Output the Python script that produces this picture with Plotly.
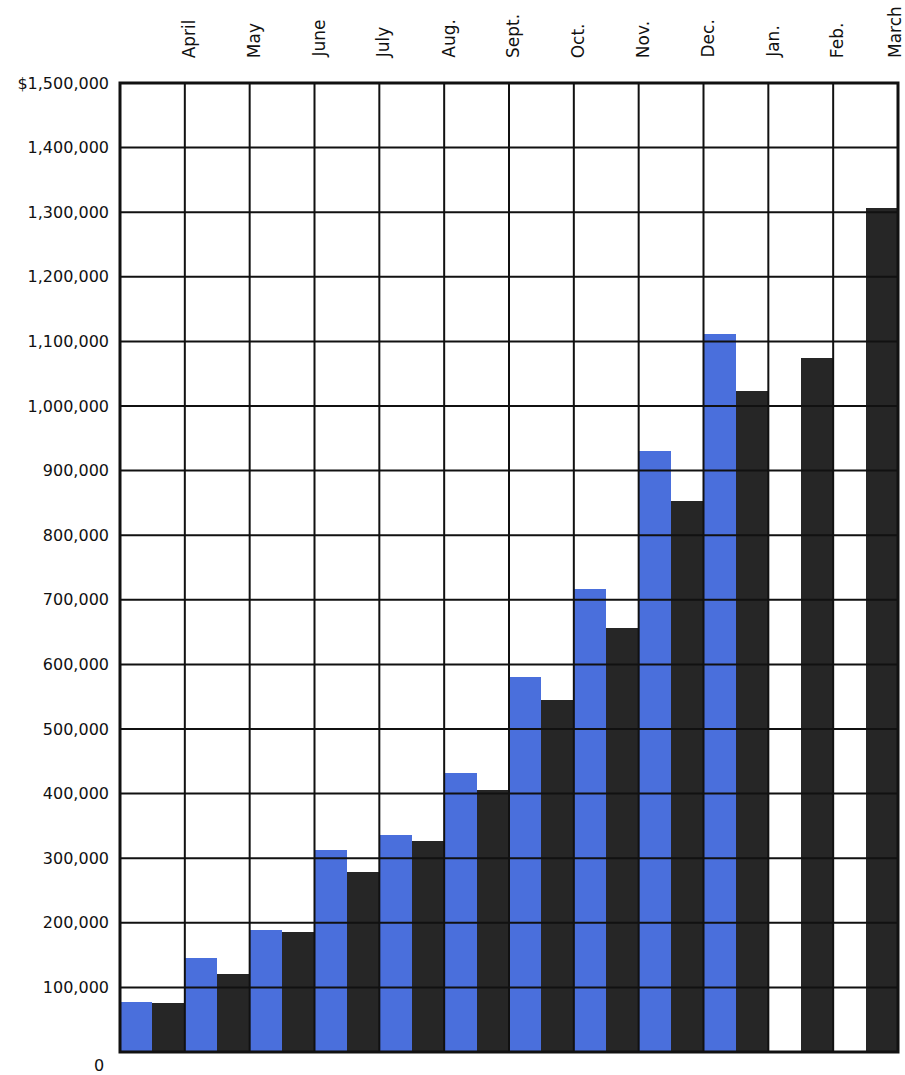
import plotly.graph_objects as go

months = ["April", "May", "June", "July", "Aug.", "Sept.", "Oct.", "Nov.", "Dec.", "Jan.", "Feb.", "March"]
blue_values = [78000, 146000, 189000, 312000, 336000, 432000, 580000, 716000, 931000, 1112000, None, None]
black_values = [76000, 121000, 186000, 279000, 327000, 406000, 545000, 657000, 853000, 1023000, 1074000, 1306000]
y_ticks = [100000 * k for k in range(1, 16)]
y_tick_text = ["$1,500,000" if v == 1500000 else f"{v:,}" for v in y_ticks]

BLUE = "#4a6fdc"
DARK = "#262626"
LINE = "#111111"
FONT = "DejaVu Sans"

xpos = list(range(len(months)))

fig = go.Figure()
fig.add_bar(x=xpos, y=blue_values, marker=dict(color=BLUE, line=dict(width=0)), hoverinfo="skip")
fig.add_bar(x=xpos, y=black_values, marker=dict(color=DARK, line=dict(width=0)), hoverinfo="skip")

shapes = []
# horizontal grid lines (drawn above bars like the original)
for v in y_ticks[:-1]:
    shapes.append(dict(type="line", xref="paper", yref="y", x0=0, x1=1, y0=v, y1=v,
                       line=dict(color=LINE, width=2), layer="above"))
# vertical grid lines at month boundaries
for k in range(1, len(months)):
    shapes.append(dict(type="line", xref="x", yref="paper", x0=k - 0.5, x1=k - 0.5, y0=0, y1=1,
                       line=dict(color=LINE, width=2), layer="above"))
# frame
shapes.append(dict(type="rect", xref="paper", yref="paper", x0=0, x1=1, y0=0, y1=1,
                   line=dict(color=LINE, width=3), layer="above"))

annotations = []
for i, m in enumerate(months):
    shift = 4 if i < len(months) - 1 else -3
    annotations.append(dict(x=i + 0.5, y=1, xref="x", yref="paper", text=m, textangle=-90,
                            showarrow=False, xanchor="center", yanchor="bottom", xshift=shift, yshift=23,
                            font=dict(family=FONT, size=17, color="#111111")))
annotations.append(dict(x=0, y=0, xref="paper", yref="y", text="0", showarrow=False,
                        xanchor="right", yanchor="middle", xshift=-14, yshift=-13,
                        font=dict(family=FONT, size=16, color="#111111")))

fig.update_layout(
    width=905, height=1075,
    margin=dict(l=120, r=7, t=83, b=23),
    paper_bgcolor="white", plot_bgcolor="white",
    barmode="group", bargap=0, bargroupgap=0,
    showlegend=False,
    shapes=shapes, annotations=annotations,
    xaxis=dict(range=[-0.5, len(months) - 0.5], showticklabels=False, showgrid=False,
               zeroline=False, showline=False, ticks=""),
    yaxis=dict(range=[0, 1500000], tickvals=y_ticks, ticktext=y_tick_text, showgrid=False,
               zeroline=False, showline=False, ticks="", ticklabelstandoff=10,
               tickfont=dict(family=FONT, size=16, color="#111111")),
)

fig.write_html("out.html")
